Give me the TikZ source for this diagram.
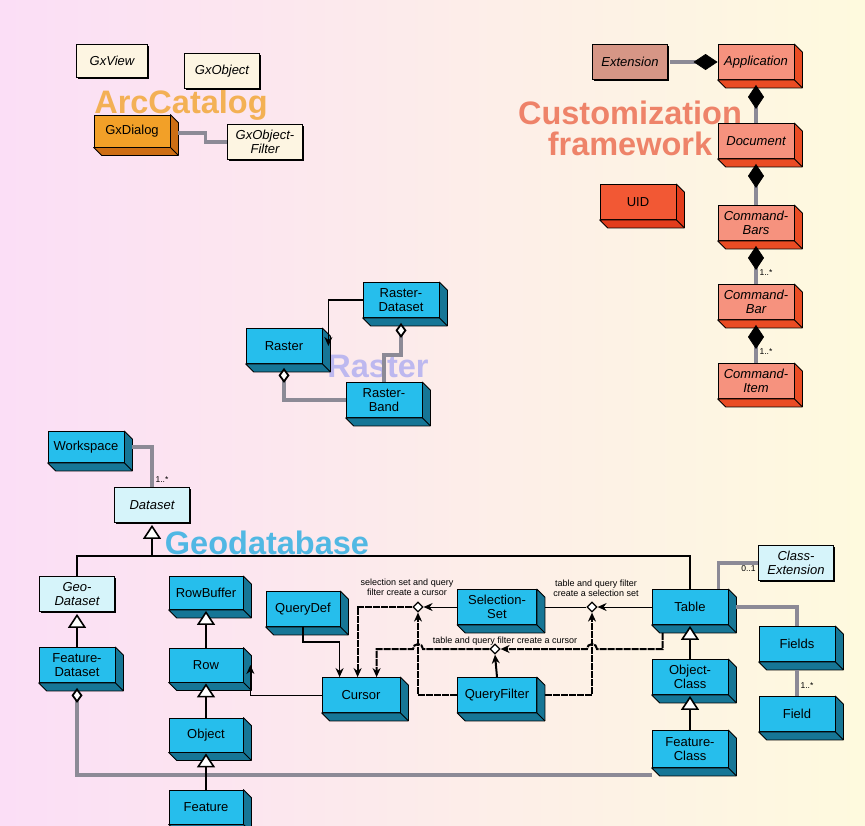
\documentclass[tikz,border=0pt]{standalone}
\usepackage{fontspec}
\setmainfont{Liberation Sans}
\usetikzlibrary{arrows.meta,calc,positioning,shapes.geometric,shadows}

\definecolor{bgpink}{RGB}{251,222,246}
\definecolor{bgcream}{RGB}{254,250,222}
\definecolor{cyanfront}{RGB}{38,190,236}
\definecolor{cyanside}{RGB}{22,118,150}
\definecolor{orfront}{RGB}{242,160,40}
\definecolor{orside}{RGB}{205,110,20}
\definecolor{salfront}{RGB}{246,146,126}
\definecolor{salside}{RGB}{234,76,36}
\definecolor{uidfront}{RGB}{242,88,52}
\definecolor{uidside}{RGB}{226,60,28}
\definecolor{cream}{RGB}{253,245,226}
\definecolor{icecyan}{RGB}{214,244,250}
\definecolor{rose}{RGB}{214,150,134}
\definecolor{linkgray}{RGB}{140,138,150}
\definecolor{arccol}{RGB}{242,168,58}
\definecolor{custcol}{RGB}{236,112,84}
\definecolor{rastcol}{RGB}{178,176,240}
\definecolor{geocol}{RGB}{52,176,226}

\newcommand\clsfont{\fontsize{13}{13.8}\selectfont}
\newcommand\grpfont{\fontsize{32.5}{31}\selectfont\bfseries}
% right and bottom faces of a 3d class box
\newcommand\sidefaces[2]{%
  \filldraw[fill=#2,draw=black,line width=0.8pt,line join=round]
    (#1.north east) -- ++(8pt,-8pt) -- ($(#1.south east)+(8pt,-8pt)$)
    -- ($(#1.south west)+(8pt,-8pt)$) -- (#1.south west) -- (#1.south east) -- cycle;
  \draw[line width=0.8pt] (#1.south east) -- ++(8pt,-8pt);}

\begin{document}
\begin{tikzpicture}[x=1pt,y=-1pt,>=Stealth,
    cls3d/.style={draw,line width=0.8pt,fill=#1,minimum width=76pt,
      minimum height=35pt,inner sep=1pt,align=center,font=\clsfont},
    cyanbox/.style={cls3d=cyanfront},
    salbox/.style={cls3d=salfront,font=\clsfont\itshape},
    flat/.style={draw,line width=0.8pt,fill=#1,minimum width=75pt,
      minimum height=35pt,inner sep=1pt,align=center,font=\clsfont\itshape,
      drop shadow={shadow xshift=1.6pt,shadow yshift=-1.6pt,fill=black,opacity=1}},
    grplbl/.style={font=\grpfont,inner sep=0pt,text opacity=.85,align=center},
    grayln/.style={draw=linkgray,line width=3.2pt},
    comp/.style={grayln,{Diamond[length=24pt,width=16pt,color=black,fill=black,line width=0.6pt]}-},
    agg/.style={grayln,{Diamond[length=15pt,width=11pt,color=black,fill=white,line width=1.8pt]}-},
    gen/.style={draw=black,line width=2pt,-{Triangle[length=14pt,width=18pt,fill=white,line width=1.6pt]}},
    flow/.style={draw=black,line width=1pt,-{Stealth[length=9pt,width=8pt]}},
    dflow/.style={flow,line width=2pt,dash pattern=on 7pt off 1pt},
    tern/.style={diamond,draw,fill=white,line width=1.2pt,minimum size=10pt,inner sep=0pt},
    mult/.style={font=\fontsize{8.5}{9}\selectfont,inner sep=1pt},
    note/.style={font=\fontsize{9}{10}\selectfont,align=center,inner sep=0pt}]
  \useasboundingbox (0,0) rectangle (865,825);
  \fill[left color=bgpink,right color=bgcream] (0,0) rectangle (865,825);

  % package names
  \node[grplbl,text=arccol] (arclbl) at (181,105) {ArcCatalog};
  \node[grplbl,text=custcol] (custlbl) at (630,128) {Customization\\framework};
  \node[grplbl,text=rastcol] (rastlbl) at (378,366) {Raster};
  \node[grplbl,text=geocol] (geolbl) at (267,543) {Geodatabase};

  % ArcCatalog
  \node[flat=cream,minimum width=71pt,minimum height=33pt] (gxview) at (112,61) {GxView};
  \node[flat=cream] (gxobject) at (222,71) {GxObject};
  \node[cls3d=orfront,minimum height=32pt] (gxdialog) at (132,131) {GxDialog};
  \node[flat=cream] (gxfilter) at (265,142) {GxObject-\\Filter};

  % customization framework
  \node[flat=rose] (extension) at (630,62) {Extension};
  \node[salbox] (application) at (756,62) {Application};
  \node[salbox] (document) at (756,141) {Document};
  \node[cls3d=uidfront] (uid) at (638,202) {UID};
  \node[salbox] (cmdbars) at (756,223) {Command-\\Bars};
  \node[salbox] (cmdbar) at (756,302) {Command-\\Bar};
  \node[salbox] (cmditem) at (756,381) {Command-\\Item};

  % raster
  \node[cyanbox] (rasterds) at (401,300) {Raster-\\Dataset};
  \node[cyanbox] (raster) at (284,346) {Raster};
  \node[cyanbox] (rasterband) at (384,400) {Raster-\\Band};

  % geodatabase
  \node[cyanbox,minimum height=31pt] (workspace) at (86,447) {Workspace};
  \node[flat=icecyan] (dataset) at (152,505) {Dataset};
  \node[flat=icecyan] (geods) at (77,594) {Geo-\\Dataset};
  \node[cyanbox] (featds) at (77,665) {Feature-\\Dataset};
  \node[cyanbox,minimum width=74pt,minimum height=33pt] (rowbuf) at (206,593) {RowBuffer};
  \node[cyanbox,minimum width=74pt,minimum height=34pt] (row) at (206,665) {Row};
  \node[cyanbox,minimum width=74pt,minimum height=34pt] (object) at (206,735) {Object};
  \node[cyanbox,minimum width=74pt,minimum height=34pt] (feature) at (206,807) {Feature};
  \node[cyanbox,minimum width=74pt] (querydef) at (303,609) {QueryDef};
  \node[cyanbox,minimum width=78pt] (cursor) at (361,695) {Cursor};
  \node[cyanbox,minimum width=79pt] (selset) at (497,607) {Selection-\\Set};
  \node[cyanbox,minimum width=79pt] (qfilter) at (497,695) {QueryFilter};
  \node[cyanbox] (table) at (690,607) {Table};
  \node[flat=icecyan] (clsext) at (796,563) {Class-\\Extension};
  \node[cyanbox] (fields) at (797,644) {Fields};
  \node[cyanbox] (field) at (797,714) {Field};
  \node[cyanbox] (objcls) at (690,677) {Object-\\Class};
  \node[cyanbox,minimum height=37pt] (featcls) at (690,749) {Feature-\\Class};

  \foreach \n in {rasterds,raster,rasterband,workspace,featds,rowbuf,row,object,
      feature,querydef,cursor,selset,qfilter,table,fields,field,objcls,featcls}
    \sidefaces{\n}{cyanside};
  \foreach \n in {application,document,cmdbars,cmdbar,cmditem}
    \sidefaces{\n}{salside};
  \sidefaces{uid}{uidside};
  \sidefaces{gxdialog}{orside};

  % ternary association points
  \node[tern] (t1) at (418,607) {};
  \node[tern] (t2) at (592,607) {};
  \node[tern] (t3) at (495,649) {};
  \node[note] (n1) at (407,587) {selection set and query\\filter create a cursor};
  \node[note] (n2) at (596,588) {table and query filter\\create a selection set};
  \node[note] (n3) at (505,641) {table and query filter create a cursor};

  % ArcCatalog links
  \draw[grayln] ($(gxdialog.east)+(8,2)$) -- ++(27,0) |- (gxfilter.west);

  % customization links
  \draw[comp] (application.west) -- ($(extension.east)+(2,0)$);
  \draw[comp] ($(application.south)+(0,5)$) -- (document.north);
  \draw[comp] ($(document.south)+(0,5)$) -- (cmdbars.north);
  \draw[comp] ($(cmdbars.south)+(0,5)$) -- node[mult,right=1pt,pos=.7] {1..*} (cmdbar.north);
  \draw[comp] ($(cmdbar.south)+(0,5)$) -- node[mult,right=1pt,pos=.7] {1..*} (cmditem.north);

  % raster links
  \draw[flow,line width=1.6pt] (rasterds.west) -| ($(raster.east)+(6,0)$);
  \draw[agg] ($(rasterds.south)+(0,5)$) -- ++(0,32) -| (rasterband.north);
  \draw[agg] ($(raster.south)+(0,4)$) |- (rasterband.west);

  % geodatabase links
  \draw[grayln] ($(workspace.east)+(8,0)$) -| node[mult,pos=.9,right=1pt] {1..*} (dataset.north);
  \coordinate (bus) at (152,556);
  \draw[gen] (geods.north) |- (bus) -- ($(dataset.south)+(0,2)$);
  \draw[line width=2pt] (bus) -| (table.north);
  \draw[agg] ($(featds.south)+(0,5)$) |- ($(featcls.south west)+(0,7)$);
  \draw[gen] (featds.north) -- ($(geods.south)+(0,2)$);
  \draw[gen] (row.north) -- ($(rowbuf.south)+(0,1)$);
  \draw[gen] (object.north) -- ($(row.south)+(0,1)$);
  \draw[gen] (feature.north) -- ($(object.south)+(0,1)$);
  \draw[gen] (objcls.north) -- ($(table.south)+(0,1)$);
  \draw[gen] (featcls.north) -- ($(objcls.south)+(0,1)$);
  \draw[grayln] ($(table.north east)+(-10,0)$) |- (clsext.west) node[mult,below left] {0..1};
  \draw[grayln] ($(table.east)+(8,0)$) -| (fields.north);
  \draw[grayln] ($(fields.south)+(0,8)$) -- node[mult,right=1pt,pos=.6] {1..*} (field.north);

  % cursors and selection sets
  \draw[flow] (cursor.west) -| ($(row.east)+(7,0)$);
  \draw[flow,line width=1.6pt] (querydef.south) -- ++(0,15) -| ($(cursor.north west)+(18,0)$);
  \draw[flow] (selset.west) -- (t1.east);
  \draw[flow] (table.west) -- (t2.east);
  \draw[line width=1pt] (t2.west) -- ($(selset.east)+(8,0)$);
  \draw[dflow] (t1.west) -| ($(cursor.north west)+(36,0)$);
  \draw[dflow,line width=1.4pt] (qfilter.west) -| (t1.south);
  \draw[dflow,line width=1.4pt] ($(qfilter.east)+(8,0)$) -| (t2.south);
  \draw[flow,line width=2pt] (qfilter.north) -- (t3.south);
  \draw[dflow] (t3.west) -- (423,649) arc[start angle=0,end angle=-180,radius=5]
    -| ($(cursor.north west)+(55,0)$);
  \draw[dflow] ($(table.south west)+(11,8)$) |- (597,649)
    arc[start angle=0,end angle=-180,radius=5] -- (t3.east);
\end{tikzpicture}
\end{document}
